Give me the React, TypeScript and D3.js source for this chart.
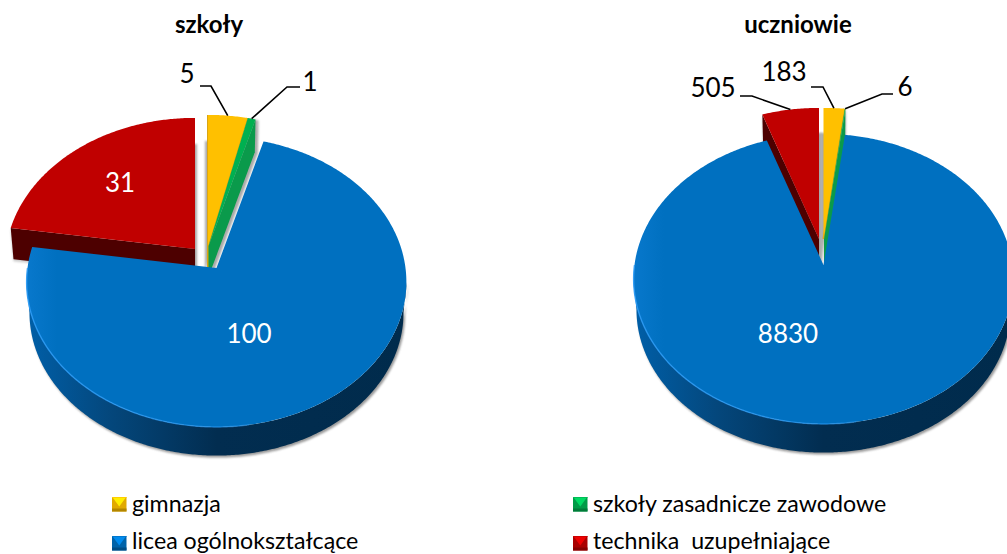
import React from "react";
import * as d3 from "d3";

const categories = ["gimnazja", "szkoły zasadnicze zawodowe", "licea ogólnokształcące", "technika  uzupełniające"];
const schoolValues = [5, 1, 100, 31];
const studentValues = [183, 6, 8830, 505];
const topColors = ["#ffc000", "#00b050", "#0070c0", "#c00000"];
const cutColors = ["#d9a514", "#0a9a4b", "#00487c", "#4d0000"];

type Pt = [number, number];
const A = 189, B = 143.7, K = 0.096, DEPTH = 31, TAPER = 0.985;
const FONT = "Lato, Carlito, Calibri, sans-serif";
const TAU = Math.PI * 2;

// perspective projection of the pie's disc onto the screen
const project = (apex: Pt, t: number, taper = 1, drop = 0): Pt => {
  const X = Math.sin(t), Y = Math.cos(t), d = 1 + K * Y;
  return [apex[0] + (taper * A * X) / d, apex[1] + drop - (taper * B * Y) / d];
};
const samples = (a0: number, a1: number) => [...d3.range(a0, a1, 0.01), a1];
const line = d3.line<Pt>().curve(d3.curveLinearClosed);
const open = d3.line<Pt>();

const facePath = (apex: Pt, a0: number, a1: number) =>
  line([apex, ...samples(a0, a1).map((t) => project(apex, t))])!;
const cutPath = (apex: Pt, t: number) => {
  const d: Pt = [apex[0], apex[1] + DEPTH];
  return line([apex, project(apex, t), project(apex, t, TAPER, DEPTH), d])!;
};
const wallPath = (apex: Pt, a0: number, a1: number) => {
  const lo = Math.max(a0, 1.667), hi = Math.min(a1, TAU - 1.667);
  if (hi <= lo) return null;
  const s = samples(lo, hi);
  return line([...s.map((t) => project(apex, t)), ...s.slice().reverse().map((t) => project(apex, t, TAPER, DEPTH))])!;
};

type PieCfg = {
  id: string; title: string; titleX: number; values: number[]; apex: Pt;
  apexes: Pt[]; // positions of the pulled-out slices
  shadow: Pt[];
  showCut: (number | null)[]; // which cut face of a slice is visible: 0 start, 1 end
  inner: { i: number; x: number; y: number }[];
  outer: { i: number; elbow: Pt; tail: number; x: number; y: number }[];
};

const pies: PieCfg[] = [
  {
    id: "a", title: "szkoły", titleX: 209, values: schoolValues, apex: [216.5, 268],
    apexes: [[208, 246], [208.5, 246], [216.5, 268], [195, 249]],
    shadow: [[-3, 26], [3, 1], [0, 0], [2, 26]],
    showCut: [0, 1, null, 0],
    inner: [{ i: 2, x: 249, y: 343 }, { i: 3, x: 120, y: 192 }],
    outer: [
      { i: 0, elbow: [211, 86], tail: 200, x: 187, y: 83 },
      { i: 1, elbow: [287, 87], tail: 300, x: 310, y: 91 },
    ],
  },
  {
    id: "b", title: "uczniowie", titleX: 798, values: studentValues, apex: [823.5, 265],
    apexes: [[823.5, 239], [824, 239], [823.5, 265], [819, 239]],
    shadow: [[-3, 25], [0.5, 1], [0, 0], [3, 25]],
    showCut: [null, 1, null, 0],
    inner: [{ i: 2, x: 788, y: 343 }],
    outer: [
      { i: 0, elbow: [823, 87], tail: 811, x: 784, y: 81 },
      { i: 1, elbow: [882, 94], tail: 893, x: 905, y: 96 },
      { i: 3, elbow: [752, 96], tail: 740, x: 713, y: 97 },
    ],
  },
];

const legendItems = [
  { i: 0, x: 112, y: 497, textY: 512 },
  { i: 1, x: 573, y: 497, textY: 512 },
  { i: 2, x: 112, y: 536, textY: 549 },
  { i: 3, x: 573, y: 536, textY: 549 },
];

const Pie = ({ cfg }: { cfg: PieCfg }) => {
  const arcs = d3.pie<number>().sort(null)(cfg.values);
  const drawOrder = [3, 0, 1, 2];
  const cx = cfg.apex[0];
  return (
    <g>
      <defs>
        <linearGradient id={`wall-${cfg.id}`} gradientUnits="userSpaceOnUse" x1={cx - 190} x2={cx + 190} y1={0} y2={0}>
          <stop offset="0" stopColor="#005fa8" />
          <stop offset="0.22" stopColor="#04477c" />
          <stop offset="0.5" stopColor="#022d50" />
          <stop offset="1" stopColor="#002b4c" />
        </linearGradient>
        <linearGradient id={`face-${cfg.id}`} gradientUnits="userSpaceOnUse" x1={cx - 190} x2={cx + 190} y1={0} y2={0}>
          <stop offset="0" stopColor="#0878cc" />
          <stop offset="0.08" stopColor="#0070c0" />
          <stop offset="1" stopColor="#0070c0" />
        </linearGradient>
        <linearGradient id={`rim-${cfg.id}`} gradientUnits="userSpaceOnUse" x1={cx - 190} x2={cx + 100} y1={0} y2={0}>
          <stop offset="0" stopColor="#2a9af5" stopOpacity="0.9" />
          <stop offset="0.7" stopColor="#2a9af5" stopOpacity="0.6" />
          <stop offset="1" stopColor="#2a9af5" stopOpacity="0" />
        </linearGradient>
        <clipPath id={`shadow-clip-${cfg.id}`}>
          <rect x={cx - 40} y={0} width={120} height={300} />
        </clipPath>
      </defs>
      {/* cast shadows of the pulled-out slices */}
      <g clipPath={`url(#shadow-clip-${cfg.id})`}>
        {arcs.map((a, i) => {
          if (i === 2) return null;
          const [sx, sy] = cfg.shadow[i];
          const ap = cfg.apexes[i];
          const cut = cfg.showCut[i];
          return (
            <g key={i} transform={`translate(${sx},${sy})`} filter="url(#soft)" fill="#a9a9a9">
              <path d={facePath(ap, a.startAngle, a.endAngle)} />
              {cut !== null && <path d={cutPath(ap, cut === 0 ? a.startAngle : a.endAngle)} />}
            </g>
          );
        })}
      </g>
      {drawOrder.map((i) => {
        const a = arcs[i];
        const ap = cfg.apexes[i];
        const cut = cfg.showCut[i];
        const wall = wallPath(ap, a.startAngle, a.endAngle);
        const blue = i === 2;
        return (
          <g key={i}>
            {wall && (
              <path d={wall} fill="#777" transform="translate(1.5,2)" filter="url(#soft)" opacity={0.75} />
            )}
            {wall && <path d={wall} fill={`url(#wall-${cfg.id})`} />}
            {cut !== null && i === 3 && (
              <path
                d={cutPath(ap, a.startAngle)}
                fill="#999"
                transform="translate(0,2)"
                filter="url(#soft)"
                opacity={0.5}
              />
            )}
            {cut !== null && (
              <path
                d={cutPath(ap, cut === 0 ? a.startAngle : a.endAngle)}
                fill={cutColors[i]}
                stroke={cutColors[i]}
                strokeWidth={i === 0 ? 2 : 0}
              />
            )}
            {i === 0 && (
              <path
                d={open([ap, project(ap, a.endAngle)])!}
                stroke={cutColors[0]}
                strokeWidth={2}
                fill="none"
              />
            )}
            <path d={facePath(ap, a.startAngle, a.endAngle)} fill={blue ? `url(#face-${cfg.id})` : topColors[i]} />
            {blue && (
              <path
                d={open(samples(Math.PI * 0.95, TAU * 0.75).map((t) => project(ap, t)))!}
                fill="none"
                stroke={`url(#rim-${cfg.id})`}
                strokeWidth={1.4}
              />
            )}
          </g>
        );
      })}
      {cfg.outer.map((o) => {
        const a = arcs[o.i];
        const p = project(cfg.apexes[o.i], (a.startAngle + a.endAngle) / 2);
        return (
          <path
            key={o.i}
            d={open([p, o.elbow, [o.tail, o.elbow[1]]])!}
            fill="none"
            stroke="#000"
            strokeWidth={1.6}
          />
        );
      })}
      {cfg.outer.map((o) => (
        <text key={o.i} x={o.x} y={o.y} textAnchor="middle" fontSize={26} fill="#000" fontFamily={FONT}>
          {cfg.values[o.i]}
        </text>
      ))}
      {cfg.inner.map((o) => (
        <text key={o.i} x={o.x} y={o.y} textAnchor="middle" fontSize={26} fill="#fff" fontFamily={FONT}>
          {cfg.values[o.i]}
        </text>
      ))}
      <text x={cfg.titleX} y={33} textAnchor="middle" fontSize={24} fontWeight="bold" fill="#000" fontFamily={FONT}>
        {cfg.title}
      </text>
    </g>
  );
};

const Marker = ({ x, y, color }: { x: number; y: number; color: string }) => {
  const s = 14.5;
  const c = d3.color(color)!;
  const poly = (pts: Pt[], fill: string) => <path d={line(pts)!} fill={fill} />;
  return (
    <g transform={`translate(${x},${y})`}>
      {poly([[0, 0], [s, 0], [s, s], [0, s]], c.darker(0.35).formatHex())}
      {poly([[0, s - 3], [s, s - 3], [s, s], [0, s]], c.darker(1).formatHex())}
      {poly([[1, 1], [s - 1, 1], [s / 2, s - 5]], c.brighter(0.6).formatHex())}
      {poly([[0, 0], [s, 0], [s, 1], [0, 1]], c.brighter(0.2).formatHex())}
    </g>
  );
};

export default function App() {
  return (
    <svg
      width={1007}
      height={554}
      viewBox="0 0 1007 554"
      style={{ position: "absolute", left: 0, top: 0, display: "block", background: "#fff" }}
    >
      <defs>
        <filter id="soft" x="-20%" y="-20%" width="140%" height="140%">
          <feGaussianBlur stdDeviation="0.9" />
        </filter>
      </defs>
      {pies.map((p) => (
        <Pie key={p.id} cfg={p} />
      ))}
      {legendItems.map((l) => (
        <g key={l.i}>
          <Marker x={l.x} y={l.y} color={topColors[l.i]} />
          <text x={l.x + 20} y={l.textY} fontSize={23.2} fill="#000" fontFamily={FONT} style={{ whiteSpace: "pre" }}>
            {categories[l.i]}
          </text>
        </g>
      ))}
    </svg>
  );
}
